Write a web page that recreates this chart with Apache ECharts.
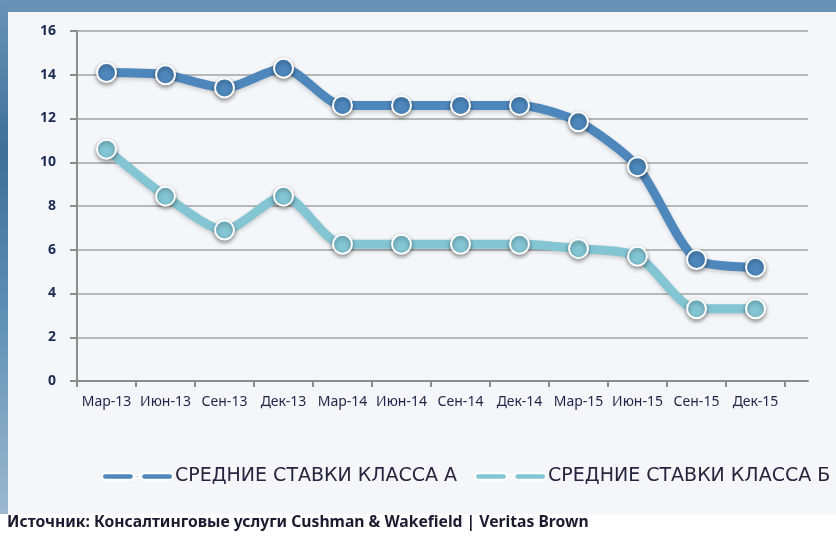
<!DOCTYPE html>
<html><head><meta charset="utf-8">
<script src="https://cdn.jsdelivr.net/npm/echarts@6/dist/echarts.min.js"></script>
<style>html,body{margin:0;padding:0;background:#fff}#c{width:836px;height:537px}</style>
</head><body><div id="c"></div>
<script>
const categories = ['Мар-13','Июн-13','Сен-13','Дек-13','Мар-14','Июн-14','Сен-14','Дек-14','Мар-15','Июн-15','Сен-15','Дек-15'];
const classA = [14.1, 14.0, 13.4, 14.3, 12.6, 12.6, 12.6, 12.6, 11.85, 9.8, 5.55, 5.2];
const classB = [10.6, 8.45, 6.9, 8.45, 6.25, 6.25, 6.25, 6.25, 6.05, 5.7, 3.3, 3.3];
const seriesNames = ['СРЕДНИЕ СТАВКИ КЛАССА А', 'СРЕДНИЕ СТАВКИ КЛАССА Б'];
const sourceText = 'Источник: Консалтинговые услуги Cushman & Wakefield | Veritas Brown';
const yMin = 0, yMax = 16, yStep = 2;

const colA = '#4d87bc', colB = '#83c5d3';
const chart = echarts.init(document.getElementById('c'), null, {renderer:'canvas'});
const legendIcon = 'path://M1,0H28A1,1 0 0 1 28,7H1A1,1 0 0 1 1,0Z M34,2H37V5H34Z M43,0H70A1,1 0 0 1 70,7H43A1,1 0 0 1 43,0Z';
function mkSeries(name, data, col){
  return {
    name, type:'line', xAxisIndex:1, yAxisIndex:1, data, smooth:0.25,
    symbol:'circle', symbolSize:19,
    lineStyle:{color:col, width:9, shadowColor:'rgba(0,0,0,0.18)', shadowBlur:4, shadowOffsetY:2},
    itemStyle:{color:col, borderColor:'#ffffff', borderWidth:2, shadowColor:'rgba(0,0,0,0.4)', shadowBlur:4, shadowOffsetY:2},
    emphasis:{disabled:true}
  };
}
chart.setOption({
  animation:false,
  backgroundColor:'#ffffff',
  graphic:[
    {type:'rect', z:-10, shape:{x:0,y:0,width:836,height:12}, style:{fill:'#6893b6'}},
    {type:'rect', z:-10, shape:{x:0,y:0,width:8,height:514}, style:{fill:new echarts.graphic.LinearGradient(0,0,0,1,[
      {offset:0,color:'#6893b6'},{offset:0.3,color:'#3f6f97'},{offset:0.6,color:'#5c8fb3'},{offset:0.85,color:'#86a9c4'},{offset:1,color:'#9cb8cf'}])}},
    {type:'rect', z:-10, shape:{x:8,y:12,width:828,height:502}, style:{fill:'#f4f6f9'}},
    {type:'text', left:7, top:515, style:{text:sourceText, fill:'#1b1b30', font:'bold 15.7px "Noto Sans"'}}
  ],
  legend:{
    left:96, top:462, width:1000, itemWidth:71, itemHeight:7, itemGap:17,
    icon: legendIcon,
    textStyle:{color:'#26243f', fontSize:19, fontFamily:'"DejaVu Sans"', padding:[0,0,0,-3]},
    data: seriesNames
  },
  grid:[
    {left:77, right:28, top:31, bottom:156},
    {left:77, right:51, top:31, bottom:156}
  ],
  xAxis:[
    {type:'value', gridIndex:0, min:0, max:1, axisLine:{show:true, lineStyle:{color:'#8c8c8c', width:2}}, axisTick:{show:false}, axisLabel:{show:false}, splitLine:{show:false}},
    {type:'category', gridIndex:1, data:categories, boundaryGap:true,
      axisLine:{show:true, lineStyle:{color:'#8c8c8c', width:2}},
      axisTick:{show:true, length:6, lineStyle:{color:'#8c8c8c', width:2}, interval:0},
      axisLabel:{interval:0, color:'#1e2548', fontSize:14, fontFamily:'"Noto Sans"', margin:14}}
  ],
  yAxis:[
    {type:'value', gridIndex:0, min:yMin, max:yMax, interval:yStep, axisLine:{show:false}, axisTick:{show:false}, axisLabel:{show:false},
      splitLine:{show:true, lineStyle:{color:'#a3a3a3', width:1.5}}},
    {type:'value', gridIndex:1, min:yMin, max:yMax, interval:yStep,
      axisLine:{show:true, lineStyle:{color:'#8c8c8c', width:2}},
      axisTick:{show:true, length:7, lineStyle:{color:'#8c8c8c', width:2}},
      axisLabel:{color:'#1c2b52', fontSize:14, fontWeight:'bold', fontFamily:'"Noto Sans"', margin:21},
      splitLine:{show:false}}
  ],
  series:[ mkSeries(seriesNames[0], classA, colA), mkSeries(seriesNames[1], classB, colB) ]
});
</script></body></html>
